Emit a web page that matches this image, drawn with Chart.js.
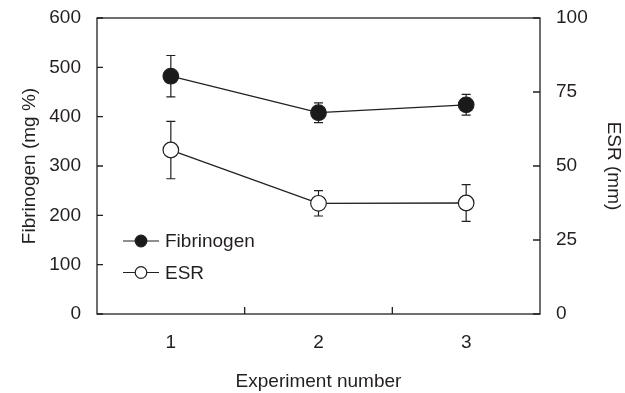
<!DOCTYPE html>
<html><head><meta charset="utf-8">
<script src="https://cdn.jsdelivr.net/npm/chart.js@4/dist/chart.umd.min.js"></script>
<style>html,body{margin:0;padding:0;background:#fff}</style>
</head><body>
<canvas id="c" width="625" height="393"></canvas>
<script>
const experiments = [1, 2, 3];
const fibrinogenMean = [482, 408, 424];
const fibrinogenSD = [42, 20, 21];
const esrMean = [55.4, 37.4, 37.5];
const esrSD = [9.7, 4.3, 6.2];
const leftTicks = [0, 100, 200, 300, 400, 500, 600];
const rightTicks = [0, 25, 50, 75, 100];

const INK = '#231f20';
const FONT = {family: '"Liberation Sans", Arial, sans-serif', size: 19};

const framePlugin = {
  id: 'frame',
  beforeDatasetsDraw(chart) {
    const {ctx, chartArea: a, scales} = chart;
    ctx.save();
    ctx.strokeStyle = INK; ctx.lineWidth = 1.3;
    ctx.strokeRect(a.left, a.top, a.right - a.left, a.bottom - a.top);
    ctx.beginPath();
    scales.y.ticks.forEach(t => { const py = scales.y.getPixelForValue(t.value); ctx.moveTo(a.left, py); ctx.lineTo(a.left + 6, py); });
    scales.y2.ticks.forEach(t => { const py = scales.y2.getPixelForValue(t.value); ctx.moveTo(a.right, py); ctx.lineTo(a.right - 7, py); });
    for (let i = 0; i < experiments.length - 1; i++) {
      const px = scales.x.getPixelForValue((experiments[i] + experiments[i + 1]) / 2);
      ctx.moveTo(px, a.bottom); ctx.lineTo(px, a.bottom - 7);
    }
    ctx.stroke();
    ctx.lineWidth = 1.2;
    chart.data.datasets.forEach(ds => {
      const ys = scales[ds.yAxisID];
      ds.data.forEach((p, i) => {
        const px = scales.x.getPixelForValue(p.x);
        const top = ys.getPixelForValue(p.y + ds.errors[i]);
        const bot = ys.getPixelForValue(p.y - ds.errors[i]);
        ctx.beginPath();
        ctx.moveTo(px, top); ctx.lineTo(px, bot);
        ctx.moveTo(px - 4.5, top); ctx.lineTo(px + 4.5, top);
        ctx.moveTo(px - 4.5, bot); ctx.lineTo(px + 4.5, bot);
        ctx.stroke();
      });
    });
    ctx.restore();
  },
  afterDatasetsDraw(chart) {
    const {ctx, chartArea: a} = chart;
    ctx.save();
    const rows = [a.bottom - 73, a.bottom - 41.5];
    chart.data.datasets.forEach((ds, i) => {
      const y = rows[i];
      ctx.strokeStyle = INK; ctx.lineWidth = 1.2;
      ctx.beginPath(); ctx.moveTo(a.left + 26, y); ctx.lineTo(a.left + 62, y); ctx.stroke();
      ctx.beginPath(); ctx.arc(a.left + 44, y, 5.8, 0, Math.PI * 2);
      ctx.fillStyle = ds.pointBackgroundColor; ctx.fill(); ctx.stroke();
      ctx.fillStyle = INK;
      ctx.font = FONT.size + 'px ' + FONT.family;
      ctx.textBaseline = 'middle'; ctx.textAlign = 'left';
      ctx.fillText(ds.label, a.left + 68, y + 1);
    });
    ctx.restore();
  }
};

const fitV = w => s => { s.width = w; s.paddingTop = 0; s.paddingBottom = 0; };

new Chart(document.getElementById('c'), {
  type: 'line',
  data: {
    datasets: [
      {
        label: 'Fibrinogen', yAxisID: 'y',
        data: experiments.map((x, i) => ({x, y: fibrinogenMean[i]})),
        errors: fibrinogenSD,
        borderColor: INK, borderWidth: 1.3, tension: 0,
        pointRadius: 7.8, pointHoverRadius: 7.8,
        pointBackgroundColor: '#1a1a1a', pointBorderColor: INK, pointBorderWidth: 1.2
      },
      {
        label: 'ESR', yAxisID: 'y2',
        data: experiments.map((x, i) => ({x, y: esrMean[i]})),
        errors: esrSD,
        borderColor: INK, borderWidth: 1.3, tension: 0,
        pointRadius: 7.8, pointHoverRadius: 7.8,
        pointBackgroundColor: '#ffffff', pointBorderColor: INK, pointBorderWidth: 1.2
      }
    ]
  },
  options: {
    responsive: false, animation: false, devicePixelRatio: 1,
    layout: {padding: {top: 18, left: 0, right: 0, bottom: 0}},
    plugins: {legend: {display: false}, tooltip: {enabled: false}},
    scales: {
      x: {
        type: 'linear', position: 'bottom', min: 0.5, max: 3.5,
        afterBuildTicks: s => { s.ticks = experiments.map(v => ({value: v})); },
        afterFit: s => { s.height = 79; },
        grid: {display: false, drawTicks: false}, border: {display: false},
        ticks: {font: FONT, color: INK, padding: 17, callback: v => String(v)},
        title: {display: true, text: 'Experiment number', font: FONT, color: INK, padding: {top: 0, bottom: 0}}
      },
      y: {
        type: 'linear', position: 'left', min: 0, max: 600,
        afterBuildTicks: s => { s.ticks = leftTicks.map(v => ({value: v})); },
        afterFit: fitV(97),
        grid: {display: false, drawTicks: false}, border: {display: false},
        ticks: {font: FONT, color: INK, padding: 16},
        title: {display: true, text: 'Fibrinogen (mg %)', font: FONT, color: INK, padding: {top: 18, bottom: 0}}
      },
      y2: {
        type: 'linear', position: 'right', min: 0, max: 100,
        afterBuildTicks: s => { s.ticks = rightTicks.map(v => ({value: v})); },
        afterFit: fitV(85),
        grid: {display: false, drawTicks: false}, border: {display: false},
        ticks: {font: FONT, color: INK, padding: 16},
        title: {display: true, text: 'ESR (mm)', font: FONT, color: INK, padding: {top: 0, bottom: 0}}
      }
    }
  },
  plugins: [framePlugin]
});
</script>
</body></html>
